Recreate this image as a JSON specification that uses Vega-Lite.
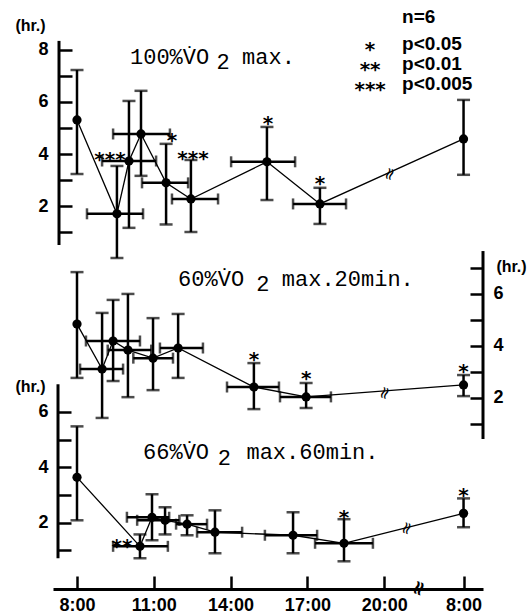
{
  "$schema": "https://vega.github.io/schema/vega-lite/v6.json",
  "padding": {"left": 14, "top": 7, "right": 0, "bottom": 0},
  "background": "white",
  "width": 430,
  "height": 548,
  "config": {
    "view": {"stroke": null},
    "axis": {
      "domainColor": "black", "domainWidth": 3, "tickColor": "black", "tickWidth": 2.5,
      "labelFont": "Liberation Sans", "labelFontSize": 18, "labelFontWeight": "bold", "labelColor": "black",
      "titleFont": "Liberation Sans", "titleFontSize": 16, "titleFontWeight": "bold", "titleColor": "black",
      "grid": false
    },
    "text": {"color": "black"}
  },
  "datasets": {
    "top": [
      {"i": 1, "h": 8.0, "v": 5.31, "lo": 3.23, "hi": 7.23},
      {"i": 2, "h": 9.56, "v": 1.70, "lo": 0.0, "hi": 3.54, "xlo": 8.39, "xhi": 10.58},
      {"i": 3, "h": 10.03, "v": 3.73, "lo": 1.16, "hi": 6.04, "xlo": 8.98, "xhi": 11.09},
      {"i": 4, "h": 10.5, "v": 4.77, "lo": 3.16, "hi": 6.43, "xlo": 9.41, "xhi": 11.63},
      {"i": 5, "h": 11.48, "v": 2.89, "lo": 1.29, "hi": 4.39, "xlo": 10.54, "xhi": 12.34},
      {"i": 6, "h": 12.45, "v": 2.27, "lo": 1.0, "hi": 3.77, "xlo": 11.71, "xhi": 13.51},
      {"i": 7, "h": 15.42, "v": 3.70, "lo": 2.23, "hi": 5.04, "xlo": 14.02, "xhi": 16.52},
      {"i": 8, "h": 17.49, "v": 2.08, "lo": 1.31, "hi": 2.70, "xlo": 16.44, "xhi": 18.51},
      {"i": 9, "h": 23.1, "v": 4.58, "lo": 3.2, "hi": 6.08}
    ],
    "topStars": [
      {"h": 9.29, "v": 4.0, "s": "***"},
      {"h": 11.71, "v": 4.73, "s": "*"},
      {"h": 12.53, "v": 4.04, "s": "***"},
      {"h": 15.46, "v": 5.39, "s": "*"},
      {"h": 17.49, "v": 3.08, "s": "*"}
    ],
    "mid": [
      {"i": 1, "h": 8.0, "v": 4.84, "lo": 2.77, "hi": 6.84},
      {"i": 2, "h": 8.98, "v": 3.11, "lo": 1.23, "hi": 5.27, "xlo": 8.12, "xhi": 9.8},
      {"i": 3, "h": 9.41, "v": 4.19, "lo": 2.65, "hi": 5.77, "xlo": 8.35, "xhi": 10.46},
      {"i": 4, "h": 9.99, "v": 3.84, "lo": 2.03, "hi": 6.0, "xlo": 9.2, "xhi": 10.9},
      {"i": 5, "h": 10.97, "v": 3.53, "lo": 2.3, "hi": 5.07, "xlo": 10.2, "xhi": 11.75},
      {"i": 6, "h": 11.95, "v": 3.92, "lo": 2.77, "hi": 5.23, "xlo": 11.24, "xhi": 12.92},
      {"i": 7, "h": 14.91, "v": 2.42, "lo": 1.57, "hi": 3.34, "xlo": 13.86, "xhi": 15.89},
      {"i": 8, "h": 16.95, "v": 2.04, "lo": 1.61, "hi": 2.57, "xlo": 15.93, "xhi": 17.92},
      {"i": 9, "h": 23.1, "v": 2.5, "lo": 2.07, "hi": 2.88}
    ],
    "midStars": [
      {"h": 14.91, "v": 3.69, "s": "*"},
      {"h": 16.95, "v": 2.96, "s": "*"},
      {"h": 23.1, "v": 3.23, "s": "*"}
    ],
    "bot": [
      {"i": 1, "h": 8.0, "v": 3.64, "lo": 2.09, "hi": 5.48},
      {"i": 2, "h": 10.46, "v": 1.15, "lo": 0.72, "hi": 1.58, "xlo": 9.41, "xhi": 11.55},
      {"i": 3, "h": 10.93, "v": 2.2, "lo": 1.37, "hi": 3.03, "xlo": 9.95, "xhi": 11.6},
      {"i": 4, "h": 11.44, "v": 2.09, "lo": 1.58, "hi": 2.56, "xlo": 10.35, "xhi": 12.0},
      {"i": 5, "h": 12.3, "v": 1.95, "lo": 1.55, "hi": 2.27, "xlo": 11.87, "xhi": 13.08},
      {"i": 6, "h": 13.39, "v": 1.66, "lo": 0.9, "hi": 2.45, "xlo": 12.69, "xhi": 14.45},
      {"i": 7, "h": 16.44, "v": 1.55, "lo": 0.9, "hi": 2.38, "xlo": 15.34, "xhi": 17.38},
      {"i": 8, "h": 18.43, "v": 1.26, "lo": 0.61, "hi": 2.13, "xlo": 17.3, "xhi": 19.56},
      {"i": 9, "h": 23.1, "v": 2.34, "lo": 1.84, "hi": 2.88}
    ],
    "botStars": [
      {"h": 9.76, "v": 1.33, "s": "**"},
      {"h": 18.43, "v": 2.38, "s": "*"},
      {"h": 23.1, "v": 3.17, "s": "*"}
    ]
  },
  "resolve": {"scale": {"y": "independent"}, "axis": {"y": "independent"}},
  "layer": [
    {
      "layer": [
        {
          "data": {"values": [{}]},
          "mark": {"type": "rule", "strokeWidth": 3, "color": "black"},
          "encoding": {
            "x": {"datum": 7.297, "scale": {"domain": [7.0625, 23.86], "nice": false, "zero": false}},
            "y": {"datum": 0.5, "scale": {"domain": [-12.73, 8.346], "nice": false, "zero": false}, "title": "(hr.)"},
            "y2": {"datum": 8.35}
          }
        },
        {
          "data": {"name": "top"},
          "mark": {"type": "line", "color": "black", "strokeWidth": 1.3},
          "encoding": {
            "x": {"field": "h", "type": "quantitative", "scale": {"domain": [7.0625, 23.86], "nice": false, "zero": false}},
            "y": {"field": "v", "type": "quantitative", "scale": {"domain": [-12.73, 8.346], "nice": false, "zero": false}, "title": "(hr.)",
              "axis": {"orient": "left", "offset": -6, "domain": false, "values": [1, 2, 3, 4, 5, 6, 7, 8], "labelExpr": "datum.value % 2 == 0 ? datum.label : ''", "tickSize": -13, "labelPadding": 24, "title": "(hr.)", "titleAngle": 0, "titleX": -29, "titleY": -16, "titleAlign": "center", "titleBaseline": "middle"}},
            "order": {"field": "i"}
          }
        },
        {
          "data": {"name": "top"},
          "mark": {"type": "errorbar", "ticks": {"size": 13, "thickness": 2.5, "color": "black"}, "rule": {"strokeWidth": 2.5, "color": "black"}},
          "encoding": {
            "x": {"field": "h", "type": "quantitative", "scale": {"domain": [7.0625, 23.86], "nice": false, "zero": false}},
            "y": {"field": "lo", "type": "quantitative", "scale": {"domain": [-12.73, 8.346], "nice": false, "zero": false}, "title": "(hr.)"},
            "y2": {"field": "hi"}
          }
        },
        {
          "data": {"name": "top"},
          "transform": [{"filter": "isValid(datum.xlo)"}],
          "mark": {"type": "errorbar", "ticks": {"size": 11, "thickness": 2.5, "color": "black"}, "rule": {"strokeWidth": 2.5, "color": "black"}},
          "encoding": {
            "x": {"field": "xlo", "type": "quantitative", "scale": {"domain": [7.0625, 23.86], "nice": false, "zero": false}},
            "x2": {"field": "xhi"},
            "y": {"field": "v", "type": "quantitative", "scale": {"domain": [-12.73, 8.346], "nice": false, "zero": false}, "title": "(hr.)"}
          }
        },
        {
          "data": {"name": "top"},
          "mark": {"type": "point", "filled": true, "size": 85, "color": "black", "opacity": 1},
          "encoding": {
            "x": {"field": "h", "type": "quantitative", "scale": {"domain": [7.0625, 23.86], "nice": false, "zero": false}},
            "y": {"field": "v", "type": "quantitative", "scale": {"domain": [-12.73, 8.346], "nice": false, "zero": false}, "title": "(hr.)"}
          }
        },
        {
          "data": {"name": "topStars"},
          "mark": {"type": "text", "font": "DejaVu Sans", "fontWeight": "bold", "fontSize": 20, "baseline": "middle", "align": "center", "dy": 6},
          "encoding": {
            "x": {"field": "h", "type": "quantitative", "scale": {"domain": [7.0625, 23.86], "nice": false, "zero": false}},
            "y": {"field": "v", "type": "quantitative", "scale": {"domain": [-12.73, 8.346], "nice": false, "zero": false}, "title": "(hr.)"},
            "text": {"field": "s"}
          }
        },
        {"data": {"values": [{}]}, "mark": {"type": "text", "font": "Liberation Mono", "fontSize": 22, "align": "left", "baseline": "middle"},
         "encoding": {"x": {"datum": 10.07}, "y": {"datum": 7.73, "title": "(hr.)"}, "text": {"value": "100%V\u0307O"}}},
        {"data": {"values": [{}]}, "mark": {"type": "text", "font": "Liberation Mono", "fontSize": 22, "align": "left", "baseline": "middle"},
         "encoding": {"x": {"datum": 13.45}, "y": {"datum": 7.55, "title": "(hr.)"}, "text": {"value": "2"}}},
        {"data": {"values": [{}]}, "mark": {"type": "text", "font": "Liberation Mono", "fontSize": 22, "align": "left", "baseline": "middle"},
         "encoding": {"x": {"datum": 14.45}, "y": {"datum": 7.73, "title": "(hr.)"}, "text": {"value": "max."}}},
        {"data": {"values": [{}]}, "mark": {"type": "text", "font": "Liberation Sans", "fontWeight": "bold", "fontSize": 19, "align": "left", "baseline": "middle"},
         "encoding": {"x": {"datum": 20.7}, "y": {"datum": 9.27, "title": "(hr.)"}, "text": {"value": "n=6"}}},
        {"data": {"values": [{}]}, "mark": {"type": "text", "font": "Liberation Sans", "fontWeight": "bold", "fontSize": 19, "align": "left", "baseline": "middle"},
         "encoding": {"x": {"datum": 20.7}, "y": {"datum": 8.23, "title": "(hr.)"}, "text": {"value": "p<0.05"}}},
        {"data": {"values": [{}]}, "mark": {"type": "text", "font": "Liberation Sans", "fontWeight": "bold", "fontSize": 19, "align": "left", "baseline": "middle"},
         "encoding": {"x": {"datum": 20.7}, "y": {"datum": 7.47, "title": "(hr.)"}, "text": {"value": "p<0.01"}}},
        {"data": {"values": [{}]}, "mark": {"type": "text", "font": "Liberation Sans", "fontWeight": "bold", "fontSize": 19, "align": "left", "baseline": "middle"},
         "encoding": {"x": {"datum": 20.7}, "y": {"datum": 6.7, "title": "(hr.)"}, "text": {"value": "p<0.005"}}},
        {"data": {"values": [{}]}, "mark": {"type": "text", "font": "DejaVu Sans", "fontWeight": "bold", "fontSize": 20, "align": "center", "baseline": "middle", "dy": 6},
         "encoding": {"x": {"datum": 19.45}, "y": {"datum": 8.23, "title": "(hr.)"}, "text": {"value": "*"}}},
        {"data": {"values": [{}]}, "mark": {"type": "text", "font": "DejaVu Sans", "fontWeight": "bold", "fontSize": 20, "align": "center", "baseline": "middle", "dy": 6},
         "encoding": {"x": {"datum": 19.45}, "y": {"datum": 7.47, "title": "(hr.)"}, "text": {"value": "**"}}},
        {"data": {"values": [{}]}, "mark": {"type": "text", "font": "DejaVu Sans", "fontWeight": "bold", "fontSize": 20, "align": "center", "baseline": "middle", "dy": 6},
         "encoding": {"x": {"datum": 19.45}, "y": {"datum": 6.7, "title": "(hr.)"}, "text": {"value": "***"}}},
        {"data": {"values": [{}]}, "mark": {"type": "text", "font": "DejaVu Sans", "fontSize": 17, "align": "center", "baseline": "middle", "angle": 290},
         "encoding": {"x": {"datum": 20.23}, "y": {"datum": 3.23, "title": "(hr.)"}, "text": {"value": "\u2248"}}}
      ]
    },
    {
      "layer": [
        {
          "data": {"values": [{}]},
          "mark": {"type": "rule", "strokeWidth": 3, "color": "black"},
          "encoding": {
            "x": {"datum": 23.86, "scale": {"domain": [7.0625, 23.86], "nice": false, "zero": false}},
            "y": {"datum": 0.42, "scale": {"domain": [-5.35, 15.73], "nice": false, "zero": false}, "title": "(hr.)"},
            "y2": {"datum": 7.65}
          }
        },
        {
          "data": {"name": "mid"},
          "mark": {"type": "line", "color": "black", "strokeWidth": 1.3},
          "encoding": {
            "x": {"field": "h", "type": "quantitative", "scale": {"domain": [7.0625, 23.86], "nice": false, "zero": false}},
            "y": {"field": "v", "type": "quantitative", "scale": {"domain": [-5.35, 15.73], "nice": false, "zero": false}, "title": "(hr.)",
              "axis": {"orient": "right", "offset": 0, "domain": false, "values": [1, 2, 3, 4, 5, 6, 7], "labelExpr": "datum.value % 2 == 0 ? datum.label : ''", "tickSize": -13, "labelPadding": 23, "title": "(hr.)", "titleAngle": 0, "titleX": 28, "titleY": 225, "titleAlign": "center", "titleBaseline": "middle"}},
            "order": {"field": "i"}
          }
        },
        {
          "data": {"name": "mid"},
          "mark": {"type": "errorbar", "ticks": {"size": 13, "thickness": 2.5, "color": "black"}, "rule": {"strokeWidth": 2.5, "color": "black"}},
          "encoding": {
            "x": {"field": "h", "type": "quantitative", "scale": {"domain": [7.0625, 23.86], "nice": false, "zero": false}},
            "y": {"field": "lo", "type": "quantitative", "scale": {"domain": [-5.35, 15.73], "nice": false, "zero": false}, "title": "(hr.)"},
            "y2": {"field": "hi"}
          }
        },
        {
          "data": {"name": "mid"},
          "transform": [{"filter": "isValid(datum.xlo)"}],
          "mark": {"type": "errorbar", "ticks": {"size": 11, "thickness": 2.5, "color": "black"}, "rule": {"strokeWidth": 2.5, "color": "black"}},
          "encoding": {
            "x": {"field": "xlo", "type": "quantitative", "scale": {"domain": [7.0625, 23.86], "nice": false, "zero": false}},
            "x2": {"field": "xhi"},
            "y": {"field": "v", "type": "quantitative", "scale": {"domain": [-5.35, 15.73], "nice": false, "zero": false}, "title": "(hr.)"}
          }
        },
        {
          "data": {"name": "mid"},
          "mark": {"type": "point", "filled": true, "size": 85, "color": "black", "opacity": 1},
          "encoding": {
            "x": {"field": "h", "type": "quantitative", "scale": {"domain": [7.0625, 23.86], "nice": false, "zero": false}},
            "y": {"field": "v", "type": "quantitative", "scale": {"domain": [-5.35, 15.73], "nice": false, "zero": false}, "title": "(hr.)"}
          }
        },
        {
          "data": {"name": "midStars"},
          "mark": {"type": "text", "font": "DejaVu Sans", "fontWeight": "bold", "fontSize": 20, "baseline": "middle", "align": "center", "dy": 6},
          "encoding": {
            "x": {"field": "h", "type": "quantitative", "scale": {"domain": [7.0625, 23.86], "nice": false, "zero": false}},
            "y": {"field": "v", "type": "quantitative", "scale": {"domain": [-5.35, 15.73], "nice": false, "zero": false}, "title": "(hr.)"},
            "text": {"field": "s"}
          }
        },
        {"data": {"values": [{}]}, "mark": {"type": "text", "font": "Liberation Mono", "fontSize": 22, "align": "left", "baseline": "middle"},
         "encoding": {"x": {"datum": 11.95}, "y": {"datum": 6.57, "title": "(hr.)"}, "text": {"value": "60%V\u0307O"}}},
        {"data": {"values": [{}]}, "mark": {"type": "text", "font": "Liberation Mono", "fontSize": 22, "align": "left", "baseline": "middle"},
         "encoding": {"x": {"datum": 15.0}, "y": {"datum": 6.38, "title": "(hr.)"}, "text": {"value": "2"}}},
        {"data": {"values": [{}]}, "mark": {"type": "text", "font": "Liberation Mono", "fontSize": 22, "align": "left", "baseline": "middle"},
         "encoding": {"x": {"datum": 16.0}, "y": {"datum": 6.57, "title": "(hr.)"}, "text": {"value": "max.20min."}}},
        {"data": {"values": [{}]}, "mark": {"type": "text", "font": "DejaVu Sans", "fontSize": 17, "align": "center", "baseline": "middle", "angle": 290},
         "encoding": {"x": {"datum": 20.03}, "y": {"datum": 2.19, "title": "(hr.)"}, "text": {"value": "\u2248"}}}
      ]
    },
    {
      "layer": [
        {
          "data": {"values": [{}]},
          "mark": {"type": "rule", "strokeWidth": 3, "color": "black"},
          "encoding": {
            "x": {"datum": 7.258, "scale": {"domain": [7.0625, 23.86], "nice": false, "zero": false}},
            "y": {"datum": 0.72, "scale": {"domain": [-0.39, 19.39], "nice": false, "zero": false}, "title": "(hr.)"},
            "y2": {"datum": 7.0}
          }
        },
        {
          "data": {"name": "bot"},
          "mark": {"type": "line", "color": "black", "strokeWidth": 1.3},
          "encoding": {
            "x": {"field": "h", "type": "quantitative", "scale": {"domain": [7.0625, 23.86], "nice": false, "zero": false},
              "axis": {"orient": "bottom", "offset": 0, "values": [8, 11, 14, 17, 20, 23.1], "labelExpr": "datum.value > 22 ? '8:00' : datum.value + ':00'", "tickSize": -13, "labelPadding": 20, "title": null}},
            "y": {"field": "v", "type": "quantitative", "scale": {"domain": [-0.39, 19.39], "nice": false, "zero": false}, "title": "(hr.)",
              "axis": {"orient": "left", "offset": -5, "domain": false, "values": [1, 2, 3, 4, 5, 6], "labelExpr": "datum.value % 2 == 0 ? datum.label : ''", "tickSize": -13, "labelPadding": 23, "title": "(hr.)", "titleAngle": 0, "titleX": -28, "titleY": 345, "titleAlign": "center", "titleBaseline": "middle"}},
            "order": {"field": "i"}
          }
        },
        {
          "data": {"name": "bot"},
          "mark": {"type": "errorbar", "ticks": {"size": 13, "thickness": 2.5, "color": "black"}, "rule": {"strokeWidth": 2.5, "color": "black"}},
          "encoding": {
            "x": {"field": "h", "type": "quantitative", "scale": {"domain": [7.0625, 23.86], "nice": false, "zero": false}},
            "y": {"field": "lo", "type": "quantitative", "scale": {"domain": [-0.39, 19.39], "nice": false, "zero": false}, "title": "(hr.)"},
            "y2": {"field": "hi"}
          }
        },
        {
          "data": {"name": "bot"},
          "transform": [{"filter": "isValid(datum.xlo)"}],
          "mark": {"type": "errorbar", "ticks": {"size": 11, "thickness": 2.5, "color": "black"}, "rule": {"strokeWidth": 2.5, "color": "black"}},
          "encoding": {
            "x": {"field": "xlo", "type": "quantitative", "scale": {"domain": [7.0625, 23.86], "nice": false, "zero": false}},
            "x2": {"field": "xhi"},
            "y": {"field": "v", "type": "quantitative", "scale": {"domain": [-0.39, 19.39], "nice": false, "zero": false}, "title": "(hr.)"}
          }
        },
        {
          "data": {"name": "bot"},
          "mark": {"type": "point", "filled": true, "size": 85, "color": "black", "opacity": 1},
          "encoding": {
            "x": {"field": "h", "type": "quantitative", "scale": {"domain": [7.0625, 23.86], "nice": false, "zero": false}},
            "y": {"field": "v", "type": "quantitative", "scale": {"domain": [-0.39, 19.39], "nice": false, "zero": false}, "title": "(hr.)"}
          }
        },
        {
          "data": {"name": "botStars"},
          "mark": {"type": "text", "font": "DejaVu Sans", "fontWeight": "bold", "fontSize": 20, "baseline": "middle", "align": "center", "dy": 6},
          "encoding": {
            "x": {"field": "h", "type": "quantitative", "scale": {"domain": [7.0625, 23.86], "nice": false, "zero": false}},
            "y": {"field": "v", "type": "quantitative", "scale": {"domain": [-0.39, 19.39], "nice": false, "zero": false}, "title": "(hr.)"},
            "text": {"field": "s"}
          }
        },
        {"data": {"values": [{}]}, "mark": {"type": "text", "font": "Liberation Mono", "fontSize": 22, "align": "left", "baseline": "middle"},
         "encoding": {"x": {"datum": 10.58}, "y": {"datum": 4.55, "title": "(hr.)"}, "text": {"value": "66%V\u0307O"}}},
        {"data": {"values": [{}]}, "mark": {"type": "text", "font": "Liberation Mono", "fontSize": 22, "align": "left", "baseline": "middle"},
         "encoding": {"x": {"datum": 13.5}, "y": {"datum": 4.33, "title": "(hr.)"}, "text": {"value": "2"}}},
        {"data": {"values": [{}]}, "mark": {"type": "text", "font": "Liberation Mono", "fontSize": 22, "align": "left", "baseline": "middle"},
         "encoding": {"x": {"datum": 14.62}, "y": {"datum": 4.55, "title": "(hr.)"}, "text": {"value": "max.60min."}}},
        {"data": {"values": [{}]}, "mark": {"type": "text", "font": "DejaVu Sans", "fontSize": 17, "align": "center", "baseline": "middle", "angle": 290},
         "encoding": {"x": {"datum": 20.89}, "y": {"datum": 1.8, "title": "(hr.)"}, "text": {"value": "\u2248"}}},
        {"data": {"values": [{}]}, "mark": {"type": "text", "font": "DejaVu Sans", "fontSize": 20, "fontWeight": "bold", "align": "center", "baseline": "middle", "angle": 290},
         "encoding": {"x": {"datum": 21.36}, "y": {"datum": -0.37, "title": "(hr.)"}, "text": {"value": "\u2248"}}}
      ]
    }
  ]
}
